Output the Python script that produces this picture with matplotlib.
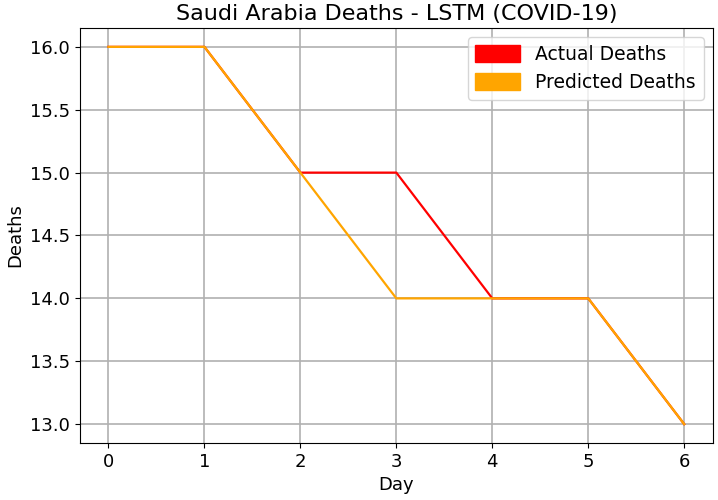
import matplotlib
matplotlib.use("Agg")
import matplotlib.pyplot as plt
import matplotlib.patches as mpatches

days = [0, 1, 2, 3, 4, 5, 6]
actual = [16, 16, 15, 15, 14, 14, 13]
predicted = [16, 16, 15, 14, 14, 14, 13]

fig = plt.figure(figsize=(7.18, 5.0), dpi=100)
ax = fig.add_axes([0.111, 0.114, 0.882, 0.830])

ax.plot(days, actual, color="red", linewidth=1.6)
ax.plot(days, predicted, color="orange", linewidth=1.6)

ax.set_title("Saudi Arabia Deaths - LSTM (COVID-19)", fontsize=16)
ax.set_xlabel("Day", fontsize=13)
ax.set_ylabel("Deaths", fontsize=13)
ax.tick_params(labelsize=13)
ax.grid(True, color="#b0b0b0", linewidth=1.2)

red_patch = mpatches.Patch(color="red", label="Actual Deaths")
orange_patch = mpatches.Patch(color="orange", label="Predicted Deaths")
ax.legend(handles=[red_patch, orange_patch], fontsize=13.5, loc="upper right",
          handlelength=2.4, handleheight=1.0)

fig.savefig("out.png", dpi=100)
